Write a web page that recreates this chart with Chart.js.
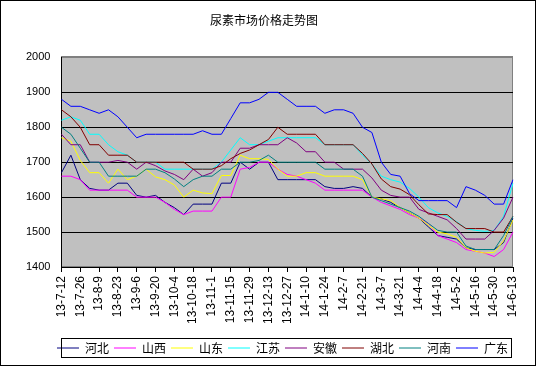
<!DOCTYPE html>
<html>
<head>
<meta charset="utf-8">
<script src="https://cdn.jsdelivr.net/npm/chart.js@4.4.1/dist/chart.umd.min.js"></script>
<style>
  html, body { margin: 0; padding: 0; background: #fff; }
</style>
</head>
<body>
<canvas id="urea-chart" width="537" height="366"></canvas>
<script>
const dates = ['13-7-12', '13-7-19', '13-7-26', '13-8-2', '13-8-9', '13-8-16', '13-8-23', '13-8-30',
    '13-9-6', '13-9-13', '13-9-20', '13-9-27', '13-10-4', '13-10-11', '13-10-18', '13-10-25',
    '13-11-1', '13-11-8', '13-11-15', '13-11-22', '13-11-29', '13-12-6', '13-12-13', '13-12-20',
    '13-12-27', '14-1-3', '14-1-10', '14-1-17', '14-1-24', '14-1-31', '14-2-7', '14-2-14',
    '14-2-21', '14-2-28', '14-3-7', '14-3-14', '14-3-21', '14-3-28', '14-4-4', '14-4-11',
    '14-4-18', '14-4-25', '14-5-2', '14-5-9', '14-5-16', '14-5-23', '14-5-30', '14-6-6', '14-6-13'];

const hebei = [1670, 1720, 1650, 1625, 1620, 1620, 1640, 1640, 1605, 1600, 1605, 1585, 1570, 1550, 1580, 1580,
    1580, 1640, 1640, 1700, 1680, 1700, 1700, 1650, 1650, 1650, 1650, 1650, 1630, 1625, 1625, 1630,
    1625, 1600, 1595, 1585, 1570, 1555, 1540, 1515, 1490, 1485, 1480, 1455, 1450, 1450, 1450, 1470, 1540];
const shanxi = [1660, 1660, 1650, 1620, 1620, 1620, 1620, 1620, 1600, 1600, 1600, 1585, 1565, 1550, 1560, 1560,
    1560, 1600, 1600, 1680, 1685, 1700, 1700, 1680, 1665, 1660, 1650, 1640, 1620, 1620, 1620, 1620,
    1620, 1600, 1585, 1575, 1565, 1550, 1540, 1525, 1490, 1480, 1470, 1450, 1445, 1440, 1430, 1450, 1500];
const shandong = [1770, 1760, 1705, 1670, 1670, 1640, 1680, 1650, 1660, 1680, 1658, 1650, 1635, 1600, 1620, 1612,
    1610, 1662, 1662, 1720, 1710, 1710, 1708, 1680, 1660, 1660, 1670, 1670, 1660, 1660, 1660, 1660,
    1650, 1600, 1595, 1590, 1570, 1555, 1540, 1520, 1500, 1495, 1485, 1455, 1445, 1440, 1442, 1475, 1535];
const jiangsu = [1820, 1830, 1820, 1780, 1780, 1750, 1730, 1720, 1700, 1700, 1700, 1680, 1680, 1680, 1680, 1680,
    1680, 1700, 1735, 1770, 1750, 1750, 1760, 1770, 1770, 1770, 1770, 1770, 1750, 1750, 1750, 1750,
    1720, 1695, 1660, 1650, 1643, 1625, 1600, 1570, 1555, 1545, 1530, 1510, 1505, 1502, 1505, 1545, 1640];
const anhui = [1780, 1750, 1750, 1700, 1700, 1700, 1705, 1700, 1680, 1700, 1690, 1675, 1665, 1650, 1680, 1660,
    1670, 1700, 1700, 1740, 1740, 1750, 1750, 1750, 1770, 1755, 1730, 1730, 1700, 1700, 1680, 1680,
    1680, 1655, 1620, 1605, 1600, 1600, 1565, 1555, 1545, 1535, 1510, 1480, 1480, 1480, 1505, 1540, 1600];
const hubei = [1850, 1830, 1800, 1750, 1750, 1720, 1720, 1720, 1700, 1700, 1700, 1700, 1700, 1700, 1680, 1680,
    1680, 1690, 1710, 1725, 1735, 1750, 1765, 1800, 1780, 1780, 1780, 1780, 1750, 1750, 1750, 1750,
    1725, 1695, 1652, 1630, 1623, 1607, 1578, 1552, 1550, 1550, 1528, 1510, 1510, 1510, 1500, 1500, 1545];
const henan = [1800, 1780, 1740, 1700, 1700, 1660, 1660, 1660, 1660, 1680, 1680, 1670, 1652, 1630, 1650, 1660,
    1660, 1680, 1680, 1700, 1700, 1705, 1720, 1700, 1700, 1700, 1700, 1700, 1680, 1680, 1680, 1680,
    1660, 1600, 1590, 1580, 1570, 1560, 1545, 1525, 1505, 1500, 1500, 1460, 1450, 1450, 1450, 1490, 1545];
const guangdong = [1880, 1860, 1860, 1850, 1840, 1850, 1830, 1800, 1770, 1780, 1780, 1780, 1780, 1780, 1780, 1790,
    1780, 1780, 1825, 1870, 1870, 1880, 1900, 1900, 1880, 1860, 1860, 1860, 1840, 1850, 1850, 1840,
    1800, 1785, 1700, 1665, 1660, 1610, 1590, 1590, 1590, 1590, 1570, 1630, 1620, 1605, 1580, 1580, 1650];

const provinces = ['河北', '山西', '山东', '江苏', '安徽', '湖北', '河南', '广东'];
const seriesValues = [hebei, shanxi, shandong, jiangsu, anhui, hubei, henan, guangdong];
const lineColors = ['#000080', '#ff00ff', '#ffff00', '#00ffff', '#800080', '#800000', '#008080', '#0000ff'];

const yMin = 1400, yMax = 2000, yStep = 100;

const cjkFont = '"Noto Sans CJK SC", "Noto Sans", sans-serif';
const numFont = '"Liberation Sans", Arial, sans-serif';

// grey plot area, legend box and outer frame like the excel original
const framePlugin = {
    id: 'frame',
    beforeDraw(chart) {
        const {ctx, chartArea: a, width, height} = chart;
        ctx.save();
        ctx.fillStyle = '#fff';
        ctx.fillRect(0, 0, width, height);
        ctx.fillStyle = '#c0c0c0';
        ctx.fillRect(a.left, a.top, a.right - a.left, a.bottom - a.top);
        ctx.strokeStyle = '#808080';
        ctx.lineWidth = 1;
        ctx.strokeRect(Math.round(a.left) + 0.5, Math.round(a.top) - 0.5,
            Math.round(a.right - a.left) - 1, Math.round(a.bottom - a.top));
        ctx.restore();
    },
    afterDraw(chart) {
        const {ctx, chartArea: a} = chart;
        const lg = chart.legend;
        ctx.save();
        ctx.strokeStyle = '#000';
        ctx.lineWidth = 1;
        ctx.strokeRect(Math.round(a.left) + 0.5, Math.round(lg.top) + 1.5, Math.round(a.right - a.left) - 2, 19);
        ctx.strokeRect(0.5, 0.5, 535, 365);
        ctx.restore();
    }
};

const ctx = document.getElementById('urea-chart').getContext('2d');

const ureaChart = new Chart(ctx, {
    type: 'line',
    data: {
        labels: dates,
        datasets: seriesValues.map((vals, i) => ({
            label: provinces[i],
            data: vals,
            borderColor: lineColors[i],
            backgroundColor: lineColors[i],
            borderWidth: 1,
            pointRadius: 0,
            tension: 0,
            fill: false,
            order: provinces.length - i
        }))
    },
    options: {
        responsive: false,
        animation: false,
        events: [],
        layout: {
            padding: { left: 15, right: 24, top: 0, bottom: 2 }
        },
        plugins: {
            title: {
                display: true,
                text: '尿素市场价格走势图',
                color: '#000',
                font: { family: cjkFont, size: 12, weight: 'normal' },
                padding: { top: 13, bottom: 30 }
            },
            legend: {
                position: 'bottom',
                align: 'end',
                labels: {
                    usePointStyle: true,
                    pointStyle: 'line',
                    pointStyleWidth: 22,
                    padding: 5,
                    color: '#000',
                    font: { family: cjkFont, size: 12 },
                    sort: (a, b) => a.datasetIndex - b.datasetIndex
                }
            },
            tooltip: { enabled: false }
        },
        scales: {
            x: {
                offset: false,
                border: { color: '#000' },
                grid: {
                    drawOnChartArea: false,
                    drawTicks: true,
                    tickLength: 5,
                    tickColor: c => (c.index % 2 ? 'rgba(0,0,0,0)' : '#000')
                },
                ticks: {
                    autoSkip: false,
                    maxRotation: 90,
                    minRotation: 90,
                    padding: 4,
                    color: '#000',
                    font: { family: numFont, size: 12 },
                    callback: function(v, i) {
                        return i % 2 ? '' : this.getLabelForValue(v);
                    }
                },
                afterFit: scale => { scale.height = 70; }
            },
            y: {
                min: yMin,
                max: yMax,
                border: { color: '#000' },
                grid: {
                    drawTicks: false,
                    color: c => {
                        if (c.tick.value === yMax) return '#808080';
                        if (c.tick.value === yMin) return 'rgba(0,0,0,0)';
                        return '#000';
                    }
                },
                ticks: {
                    stepSize: yStep,
                    padding: 11,
                    color: '#000',
                    font: { family: numFont, size: 11 },
                    callback: v => String(v)
                }
            }
        }
    },
    plugins: [framePlugin]
});
</script>
</body>
</html>
